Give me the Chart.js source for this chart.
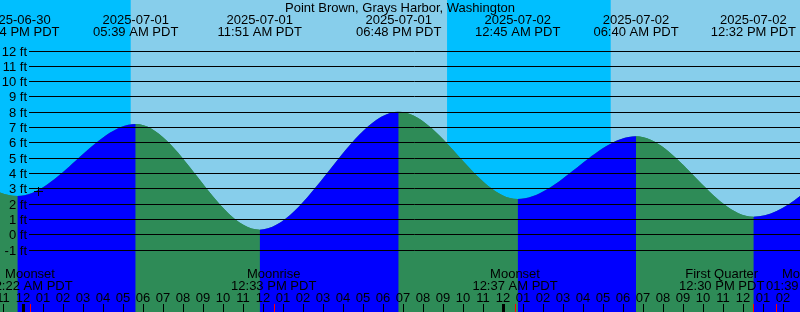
<!DOCTYPE html>
<html lang="en">
<head>
  <meta charset="UTF-8">
  <title>Point Brown, Grays Harbor, Washington</title>
  <script src="https://cdn.jsdelivr.net/npm/chart.js"></script>
  <style>
    body { margin: 0; background: #fff; }
    canvas { display: block; }
  </style>
</head>
<body>
  <canvas id="tideChart" width="800" height="312"></canvas>
  <script>
    // tide highs and lows (first and last one lie outside the picture, estimated)
    const tideTimes = ['2025-06-30 17:50', '2025-06-30 23:44', '2025-07-01 05:39', '2025-07-01 11:51',
                       '2025-07-01 18:48', '2025-07-02 00:45', '2025-07-02 06:40', '2025-07-02 12:32',
                       '2025-07-02 19:20'];
    const tideHeights = [8.2, 2.5, 7.2, 0.3, 8.0, 2.3, 6.4, 1.15, 8.1];

    // sunset / sunrise alternating, starting with a sunset
    const sunTimes = ['2025-06-30 21:13', '2025-07-01 05:24', '2025-07-01 21:13', '2025-07-02 05:24', '2025-07-02 21:13'];

    const moonTimes = ['2025-07-01 00:22', '2025-07-01 12:33', '2025-07-02 00:37', '2025-07-02 12:30', '2025-07-02 13:39'];
    const moonNames = ['Moonset', 'Moonrise', 'Moonset', 'First Quarter', 'Moonrise'];

    // current time marker
    const nowTime = '2025-07-01 00:46';
    const nowHeight = 2.83;

    const heightTicks = [-1, 0, 1, 2, 3, 4, 5, 6, 7, 8, 9, 10, 11, 12];

    const title = 'Point Brown, Grays Harbor, Washington';

    // label nudges (px) where the moon labels would run into each other
    const moonLabelShift = [0, 0, 0, -31, 33];

    const FONT = '13px "Liberation Sans", Arial, sans-serif';
    const NIGHT = '#00BFFF', DAY = '#87CEEB';
    const RISING = '#0000FF', FALLING = '#2E8B57';

    function hoursOf(s) {
      return (Date.parse(s.replace(' ', 'T') + 'Z') - Date.parse('2025-07-01T00:00Z')) / 3.6e6;
    }
    function clock(s) {
      let h = +s.slice(11, 13);
      const ap = h < 12 ? 'AM' : 'PM';
      h = h % 12 || 12;
      return String(h).padStart(2, '0') + ':' + s.slice(14, 16) + ' ' + ap + ' PDT';
    }

    const tidePoints = tideTimes.map((t, i) => ({x: hoursOf(t), y: tideHeights[i]}));

    const decor = {
      id: 'decor',
      beforeDatasetsDraw(chart) {
        const {ctx, chartArea: a, scales: {x}} = chart;
        ctx.save();
        ctx.fillStyle = NIGHT;
        ctx.fillRect(a.left, a.top, a.right - a.left, a.bottom - a.top);
        ctx.fillStyle = DAY;
        for (let i = 1; i + 1 < sunTimes.length; i += 2) {
          const x0 = x.getPixelForValue(hoursOf(sunTimes[i]));
          const x1 = x.getPixelForValue(hoursOf(sunTimes[i + 1]));
          ctx.fillRect(x0, a.top, x1 - x0, a.bottom - a.top);
        }
        ctx.restore();
      },
      afterDatasetsDraw(chart) {
        const {ctx, chartArea: a, scales: {x, y}} = chart;
        ctx.save();
        ctx.font = FONT;
        ctx.fillStyle = '#000';
        ctx.strokeStyle = '#000';
        ctx.lineWidth = 1;

        // height lines and labels
        ctx.textAlign = 'right';
        ctx.textBaseline = 'alphabetic';
        heightTicks.forEach(v => {
          const py = Math.round(y.getPixelForValue(v)) + 0.5;
          ctx.beginPath();
          ctx.moveTo(29, py);
          ctx.lineTo(a.right, py);
          ctx.stroke();
          ctx.fillText(v + ' ft', 27, py + 4);
        });

        // title
        ctx.textAlign = 'center';
        ctx.fillText(title, (a.left + a.right) / 2, 12);

        // tide labels
        tideTimes.forEach(t => {
          const px = x.getPixelForValue(hoursOf(t));
          ctx.fillText(t.slice(0, 10), px, 24);
          ctx.fillText(clock(t), px, 36);
        });

        // moon labels
        moonTimes.forEach((t, i) => {
          const px = x.getPixelForValue(hoursOf(t)) + moonLabelShift[i];
          ctx.fillText(moonNames[i], px, 278);
          ctx.fillText(clock(t), px, 290);
        });

        // hour ticks
        for (let h = Math.ceil(x.min); h <= Math.floor(x.max); h++) {
          const px = Math.round(x.getPixelForValue(h));
          const lab = String(((h % 12) + 12) % 12 || 12).padStart(2, '0');
          ctx.fillText(lab, px, 302);
          const w = ((h % 24) + 24) % 24 === 0 ? 3 : 1;
          ctx.fillRect(px - Math.floor(w / 2), 304, w, 8);
        }
        ctx.fillStyle = '#FF0000';
        moonTimes.forEach(t => {
          const px = Math.round(x.getPixelForValue(hoursOf(t)));
          ctx.fillRect(px, 304, 1, 8);
        });

        // now marker on top of the lines
        const mx = Math.round(x.getPixelForValue(hoursOf(nowTime))) + 0.5;
        const my = Math.round(y.getPixelForValue(nowHeight)) + 0.5;
        ctx.strokeStyle = '#000';
        ctx.beginPath();
        ctx.moveTo(mx - 4.5, my); ctx.lineTo(mx + 4.5, my);
        ctx.moveTo(mx, my - 4.5); ctx.lineTo(mx, my + 4.5);
        ctx.stroke();
        ctx.restore();
      }
    };

    new Chart(document.getElementById('tideChart'), {
      type: 'line',
      data: {
        datasets: [{
          // rise / fall coloured fill
          data: tidePoints,
          order: 1,
          cubicInterpolationMode: 'monotone',
          pointRadius: 0,
          borderWidth: 0,
          borderColor: 'rgba(0,0,0,0)',
          backgroundColor: RISING,
          fill: 'start',
          segment: {
            backgroundColor: c => c.p1.parsed.y > c.p0.parsed.y ? RISING : FALLING
          }
        }, {
          // plain under-layer so the segment seams do not show the sky
          data: tidePoints,
          order: 2,
          cubicInterpolationMode: 'monotone',
          pointRadius: 0,
          borderWidth: 0,
          borderColor: 'rgba(0,0,0,0)',
          backgroundColor: FALLING,
          fill: 'start'
        }]
      },
      options: {
        responsive: false,
        animation: false,
        layout: { padding: 0, autoPadding: false },
        scales: {
          x: { type: 'linear', min: -1.135, max: 38.865, display: false },
          y: { min: -5.075, max: 15.3, display: false }
        },
        plugins: {
          legend: { display: false },
          tooltip: { enabled: false }
        }
      },
      plugins: [decor]
    });
  </script>
</body>
</html>
